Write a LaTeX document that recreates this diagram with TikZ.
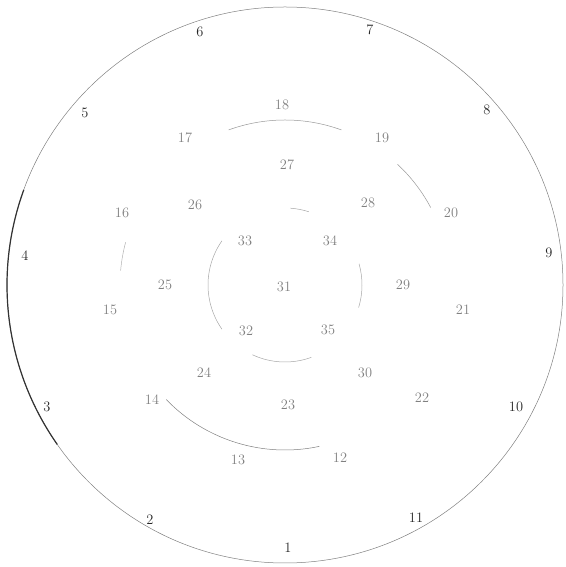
\documentclass[tikz,border=0pt]{standalone}
\usepackage{tikz}
\usetikzlibrary{positioning}
\tikzset{
    ringline/.style={draw=black!50, line width=0.5pt},
    outerlbl/.style={font=\Large, text=black!85, inner sep=1pt},
    innerlbl/.style={font=\Large, text=black!50, inner sep=1pt}
}

\begin{document}
\begin{tikzpicture}[x=1pt, y=1pt]
    \useasboundingbox (0,0) rectangle (565,567);
    \coordinate (o) at (285,282);

    % rings
    \draw[ringline] (o) circle[radius=278];
    \draw[black!80, line width=1.2pt] (o) ++(160:278) arc[start angle=160, end angle=215, radius=278];
    \draw[ringline, draw=black!40] (o) ++(70:165) arc[start angle=70, end angle=110, radius=165];
    \draw[ringline, draw=black!40] (o) ++(28:165) arc[start angle=28, end angle=47, radius=165];
    \draw[ringline, draw=black!30] (o) ++(165:165) arc[start angle=165, end angle=175, radius=165];
    \draw[ringline] (o) ++(224:165) arc[start angle=224, end angle=282, radius=165];
    \draw[ringline, draw=black!35] (o) ++(145:77) arc[start angle=145, end angle=215, radius=77];
    \draw[ringline, draw=black!35] (o) ++(245:77) arc[start angle=245, end angle=290, radius=77];
    \draw[ringline, draw=black!35] (o) ++(-17:77) arc[start angle=-17, end angle=16, radius=77];
    \draw[ringline, draw=black!35] (o) ++(72:77) arc[start angle=72, end angle=86, radius=77];

    % outer ring
    \node[outerlbl] (n1) at (288,19) {1};
    \node[outerlbl] (n2) at (150,47) {2};
    \node[outerlbl] (n3) at (47,160) {3};
    \node[outerlbl] (n4) at (25,311) {4};
    \node[outerlbl] (n5) at (85,454) {5};
    \node[outerlbl] (n6) at (200,535) {6};
    \node[outerlbl] (n7) at (370,537) {7};
    \node[outerlbl] (n8) at (487,457) {8};
    \node[outerlbl] (n9) at (549,314) {9};
    \node[outerlbl] (n10) at (516,160) {10};
    \node[outerlbl] (n11) at (416,49) {11};

    % second ring
    \node[innerlbl] (n12) at (340,109) {12};
    \node[innerlbl] (n13) at (238,107) {13};
    \node[innerlbl] (n14) at (152,167) {14};
    \node[innerlbl] (n15) at (110,257) {15};
    \node[innerlbl] (n16) at (122,354) {16};
    \node[innerlbl] (n17) at (185,429) {17};
    \node[innerlbl] (n18) at (282,462) {18};
    \node[innerlbl] (n19) at (382,429) {19};
    \node[innerlbl] (n20) at (451,354) {20};
    \node[innerlbl] (n21) at (463,257) {21};
    \node[innerlbl] (n22) at (422,169) {22};

    % third ring
    \node[innerlbl] (n23) at (288,162) {23};
    \node[innerlbl] (n24) at (204,194) {24};
    \node[innerlbl] (n25) at (165,282) {25};
    \node[innerlbl] (n26) at (195,362) {26};
    \node[innerlbl] (n27) at (287,402) {27};
    \node[innerlbl] (n28) at (368,364) {28};
    \node[innerlbl] (n29) at (403,282) {29};
    \node[innerlbl] (n30) at (365,194) {30};

    % centre
    \node[innerlbl] (n31) at (284,280) {31};
    \node[innerlbl] (n32) at (246,236) {32};
    \node[innerlbl] (n33) at (245,326) {33};
    \node[innerlbl] (n34) at (330,326) {34};
    \node[innerlbl] (n35) at (328,237) {35};
\end{tikzpicture}
\end{document}
